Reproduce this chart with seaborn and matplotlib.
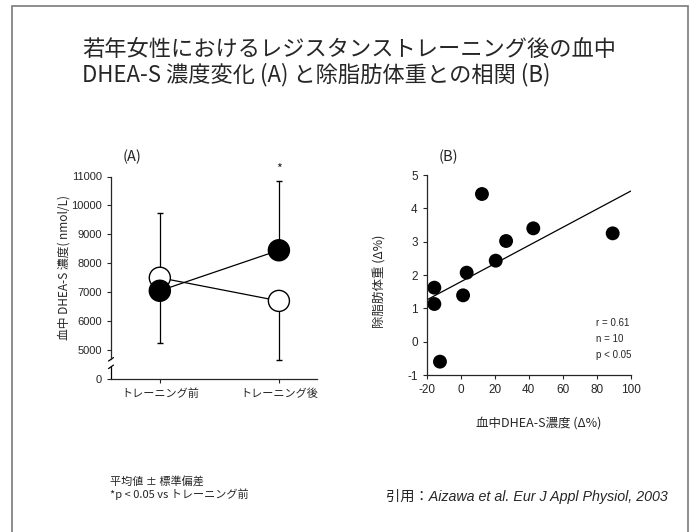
import numpy as np
import pandas as pd
import matplotlib
matplotlib.use("Agg")
import matplotlib.pyplot as plt
import seaborn as sns
from matplotlib.patches import Rectangle

# panel A: DHEA-S before / after training (mean, SD)
phases = ["トレーニング前", "トレーニング後"]
open_mean = [7500, 6700]
open_sd = [2250, 2050]
filled_mean = [7050, 8450]
filled_sd = [1800, 2380]

# panel B: change in DHEA-S (%) vs change in lean body mass (%)
dhea_change = [-15.5, -15.5, -12.2, 1.4, 3.5, 12.5, 20.6, 26.7, 42.7, 89.4]
lbm_change = [1.62, 1.13, -0.60, 1.39, 2.07, 4.43, 2.43, 3.02, 3.40, 3.25]

sns.set_theme(style="ticks")
jp = ["Noto Sans CJK JP", "DejaVu Sans"]
plt.rcParams["font.family"] = jp
plt.rcParams["axes.unicode_minus"] = False
plt.rcParams["axes.linewidth"] = 0.9
plt.rcParams["xtick.major.width"] = 0.8
plt.rcParams["ytick.major.width"] = 0.8
plt.rcParams["xtick.major.size"] = 3
plt.rcParams["ytick.major.size"] = 3

fig = plt.figure(figsize=(6.94, 5.32), dpi=100)
fig.add_artist(Rectangle((12 / 694, -0.02), 676 / 694, 1.0144 - 3 / 532,
                         transform=fig.transFigure, fill=False,
                         edgecolor="#7a7a7a", lw=1.2))

fig.text(82 / 694, 1 - 50 / 532, "若年女性におけるレジスタンストレーニング後の血中",
         fontsize=16, va="center", ha="left")
fig.text(82 / 694, 1 - 75 / 532, "DHEA-S 濃度変化 (A) と除脂肪体重との相関 (B)",
         fontsize=16, va="center", ha="left")

# ---------- panel A ----------
axA = fig.add_axes([111 / 694, 1 - 379 / 532, 206 / 694, 202.5 / 532])
df = pd.DataFrame({
    "pos": [0, 1, 0, 1],
    "mean": open_mean + filled_mean,
    "group": ["open", "open", "filled", "filled"],
})
axA.errorbar([0, 1], [filled_mean[0], open_mean[1]],
             yerr=[[filled_sd[0], open_sd[1]], [0, 0]],
             fmt="none", ecolor="black", elinewidth=0.9, capsize=2, zorder=1)
axA.errorbar([0, 1], [open_mean[0], filled_mean[1]],
             yerr=[[0, 0], [open_sd[0], filled_sd[1]]],
             fmt="none", ecolor="black", elinewidth=0.9, capsize=2, zorder=1)
sns.lineplot(data=df, x="pos", y="mean", units="group", estimator=None,
             color="black", lw=0.9, ax=axA, zorder=2)
sns.scatterplot(data=df, x="pos", y="mean", hue="group",
                palette={"open": "white", "filled": "black"},
                hue_order=["open", "filled"],
                s=230, edgecolor="black", linewidth=1.0, legend=False,
                ax=axA, zorder=3)
axA.set_xlim(-0.41, 1.32)
axA.set_ylim(4000, 11000)
axA.set_xticks([0, 1])
axA.set_xticklabels(phases, fontsize=8)
yt = [4000, 5000, 6000, 7000, 8000, 9000, 10000, 11000]
axA.set_yticks(yt)
axA.set_yticklabels(["0"] + [str(v) for v in yt[1:]], fontsize=8,
                    family=["Liberation Sans"])
axA.set_xlabel("")
axA.set_ylabel("血中 DHEA-S 濃度( nmol/L)", fontsize=8.5)
axA.yaxis.set_label_coords(-0.195, 0.55)
sns.despine(ax=axA)
axA.spines["left"].set_bounds(4680, 11000)
tr = axA.get_yaxis_transform()
axA.plot([0, 0], [4000, 4420], color="black", lw=0.9, transform=tr, clip_on=False)
for yb in (4420, 4680):
    axA.plot([-0.012, 0.012], [yb - 60, yb + 60], color="black", lw=0.9,
             transform=tr, clip_on=False)
axA.text(1, 11250, "*", ha="center", va="center", fontsize=9, clip_on=False)
fig.text(132 / 694, 1 - 157 / 532, "(A)", fontsize=10.5, ha="center", va="center")

# ---------- panel B ----------
axB = fig.add_axes([426.7 / 694, 1 - 375 / 532, 204 / 694, 200 / 532])
axB.set_xlim(-20, 100)
axB.set_ylim(-1, 5)
sns.regplot(x=np.array(dhea_change), y=np.array(lbm_change), ci=None,
            truncate=False, color="black",
            scatter_kws=dict(s=100, edgecolor="none", alpha=1),
            line_kws=dict(lw=0.9), ax=axB)
axB.set_xlim(-20, 100)
axB.set_ylim(-1, 5)
axB.set_xticks(range(-20, 101, 20))
axB.set_yticks(range(-1, 6))
axB.tick_params(labelsize=8.5)
for lab in axB.get_xticklabels() + axB.get_yticklabels():
    lab.set_family(["Liberation Sans"])
axB.set_xlabel("血中DHEA-S濃度 (Δ%)", fontsize=9)
axB.set_ylabel("除脂肪体重 (Δ%)", fontsize=9)
axB.xaxis.set_label_coords(0.55, -0.21)
axB.yaxis.set_label_coords(-0.2, 0.47)
sns.despine(ax=axB)
for i, s in enumerate(["r = 0.61", "n = 10", "p < 0.05"]):
    axB.text(0.83, 0.26 - i * 0.08, s, transform=axB.transAxes, fontsize=7,
             ha="left", va="center", family=["Liberation Sans"])
fig.text(448 / 694, 1 - 157 / 532, "(B)", fontsize=10.5, ha="center", va="center")

# ---------- notes ----------
fig.text(110 / 694, 1 - 481 / 532, "平均値 ± 標準偏差", fontsize=8, va="center")
fig.text(110 / 694, 1 - 494 / 532, "*p < 0.05 vs トレーニング前", fontsize=8, va="center")
fig.text(668 / 694, 1 - 497 / 532, "引用：Aizawa et al. Eur J Appl Physiol, 2003",
         fontsize=10.3, style="italic", ha="right", va="center",
         family=["Liberation Sans", "Noto Sans CJK JP"])

fig.savefig("out.png", dpi=100)
